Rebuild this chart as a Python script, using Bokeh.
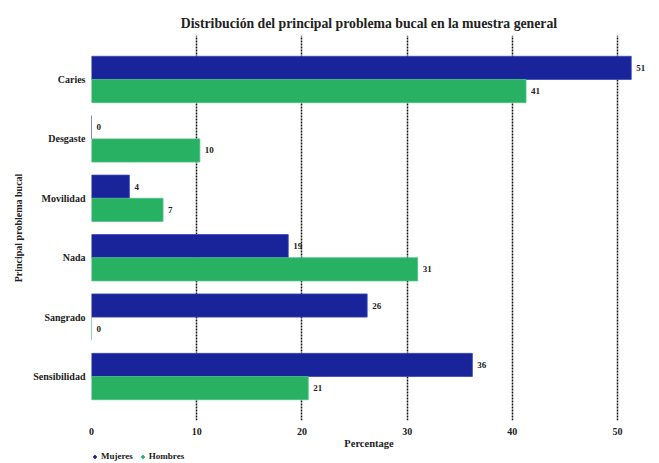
from bokeh.plotting import figure
from bokeh.models import ColumnDataSource, Legend, LegendItem, FactorRange, Range1d
from bokeh.layouts import column
from bokeh.transform import dodge
from bokeh.embed import file_html
from bokeh.resources import INLINE

categories = ["Caries", "Desgaste", "Movilidad", "Nada", "Sangrado", "Sensibilidad"]
mujeres = [51.3, 0.0, 3.6, 18.7, 26.2, 36.2]
hombres = [41.3, 10.3, 6.8, 31.0, 0.0, 20.6]
x_ticks = [0, 10, 20, 30, 40, 50]
series_names = ["Mujeres", "Hombres"]

BLUE = "#19249b"
GREEN = "#28b163"
FONT = "Liberation Serif"

src = ColumnDataSource(dict(
    cat=categories,
    muj=mujeres,
    hom=hombres,
    muj_lbl=[str(round(v)) for v in mujeres],
    hom_lbl=[str(round(v)) for v in hombres],
))

p = figure(
    frame_width=555, frame_height=385,
    y_range=FactorRange(factors=list(reversed(categories)), range_padding=0.08),
    x_range=(0, 52.75),
    output_backend="svg", toolbar_location=None,
    title="Distribución del principal problema bucal en la muestra general",
    min_border_left=91, min_border_right=5, min_border_top=35, min_border_bottom=0,
)
p.outline_line_color = None

h = 0.39
p.hbar(y=dodge("cat", h / 2, range=p.y_range), right="muj", left=0, height=h,
       source=src, fill_color=BLUE, line_color="#3a46b8", line_width=0.8)
p.hbar(y=dodge("cat", -h / 2, range=p.y_range), right="hom", left=0, height=h,
       source=src, fill_color=GREEN, line_color="#4cc384", line_width=0.8)

p.text(x="muj", y=dodge("cat", h / 2, range=p.y_range), text="muj_lbl", source=src,
       x_offset=5, text_baseline="middle", text_align="left",
       text_font=FONT, text_font_style="bold", text_font_size="9px", text_color="#222222")
p.text(x="hom", y=dodge("cat", -h / 2, range=p.y_range), text="hom_lbl", source=src,
       x_offset=5, text_baseline="middle", text_align="left",
       text_font=FONT, text_font_style="bold", text_font_size="9px", text_color="#222222")

p.title.text_font = FONT
p.title.text_font_style = "bold"
p.title.text_font_size = "13.75px"
p.title.align = "center"
p.title.text_color = "#222222"

p.xaxis.ticker = x_ticks
p.xaxis.axis_label = "Percentage"
p.yaxis.axis_label = "Principal problema bucal"
for ax in (p.xaxis, p.yaxis):
    ax.axis_line_color = None
    ax.major_tick_line_color = None
    ax.minor_tick_line_color = None
    ax.major_tick_out = 0
    ax.major_tick_in = 0
    ax.minor_tick_out = 0
    ax.minor_tick_in = 0
    ax.major_label_text_font = FONT
    ax.major_label_text_font_style = "bold"
    ax.major_label_text_font_size = "10px"
    ax.major_label_text_color = "#222222"
    ax.axis_label_text_font = FONT
    ax.axis_label_text_font_style = "bold"
    ax.axis_label_text_font_size = "10px"
    ax.axis_label_text_color = "#222222"
p.xaxis.axis_label_text_font_size = "10.5px"
p.xaxis.major_label_standoff = 7
p.xaxis.axis_label_standoff = 0
p.yaxis.major_label_standoff = 6
p.yaxis.axis_label_standoff = 6

p.ygrid.grid_line_color = None
p.xgrid.ticker = x_ticks
p.xgrid.grid_line_color = "#111111"
p.xgrid.grid_line_dash = "2 1"
p.xgrid.grid_line_width = 1.5

# legend strip below the chart (its placeholder points lie outside its ranges)
lg = figure(width=651, height=10, output_backend="svg", toolbar_location=None,
            x_range=Range1d(0, 1), y_range=Range1d(0, 1),
            min_border=0, min_border_left=0, min_border_right=0,
            min_border_top=0, min_border_bottom=0)
lg.axis.visible = False
lg.grid.visible = False
lg.outline_line_color = None
r_m = lg.scatter(x=[-5], y=[-5], marker="circle", size=6, fill_color=BLUE, line_color=BLUE)
r_h = lg.scatter(x=[-5], y=[-5], marker="circle", size=6, fill_color=GREEN, line_color=GREEN)
legend = Legend(items=[LegendItem(label=series_names[0], renderers=[r_m]),
                       LegendItem(label=series_names[1], renderers=[r_h])],
                orientation="horizontal", location=(0, 0),
                label_text_font=FONT, label_text_font_style="bold",
                label_text_font_size="9px", label_text_color="#222222",
                glyph_width=7, glyph_height=7, label_standoff=3, spacing=6,
                padding=0, margin=0, border_line_color=None,
                background_fill_alpha=0, label_height=8)
lg.add_layout(legend, "center")

layout = column(p, lg, spacing=0)
open("out.html", "w").write(file_html(layout, INLINE))
